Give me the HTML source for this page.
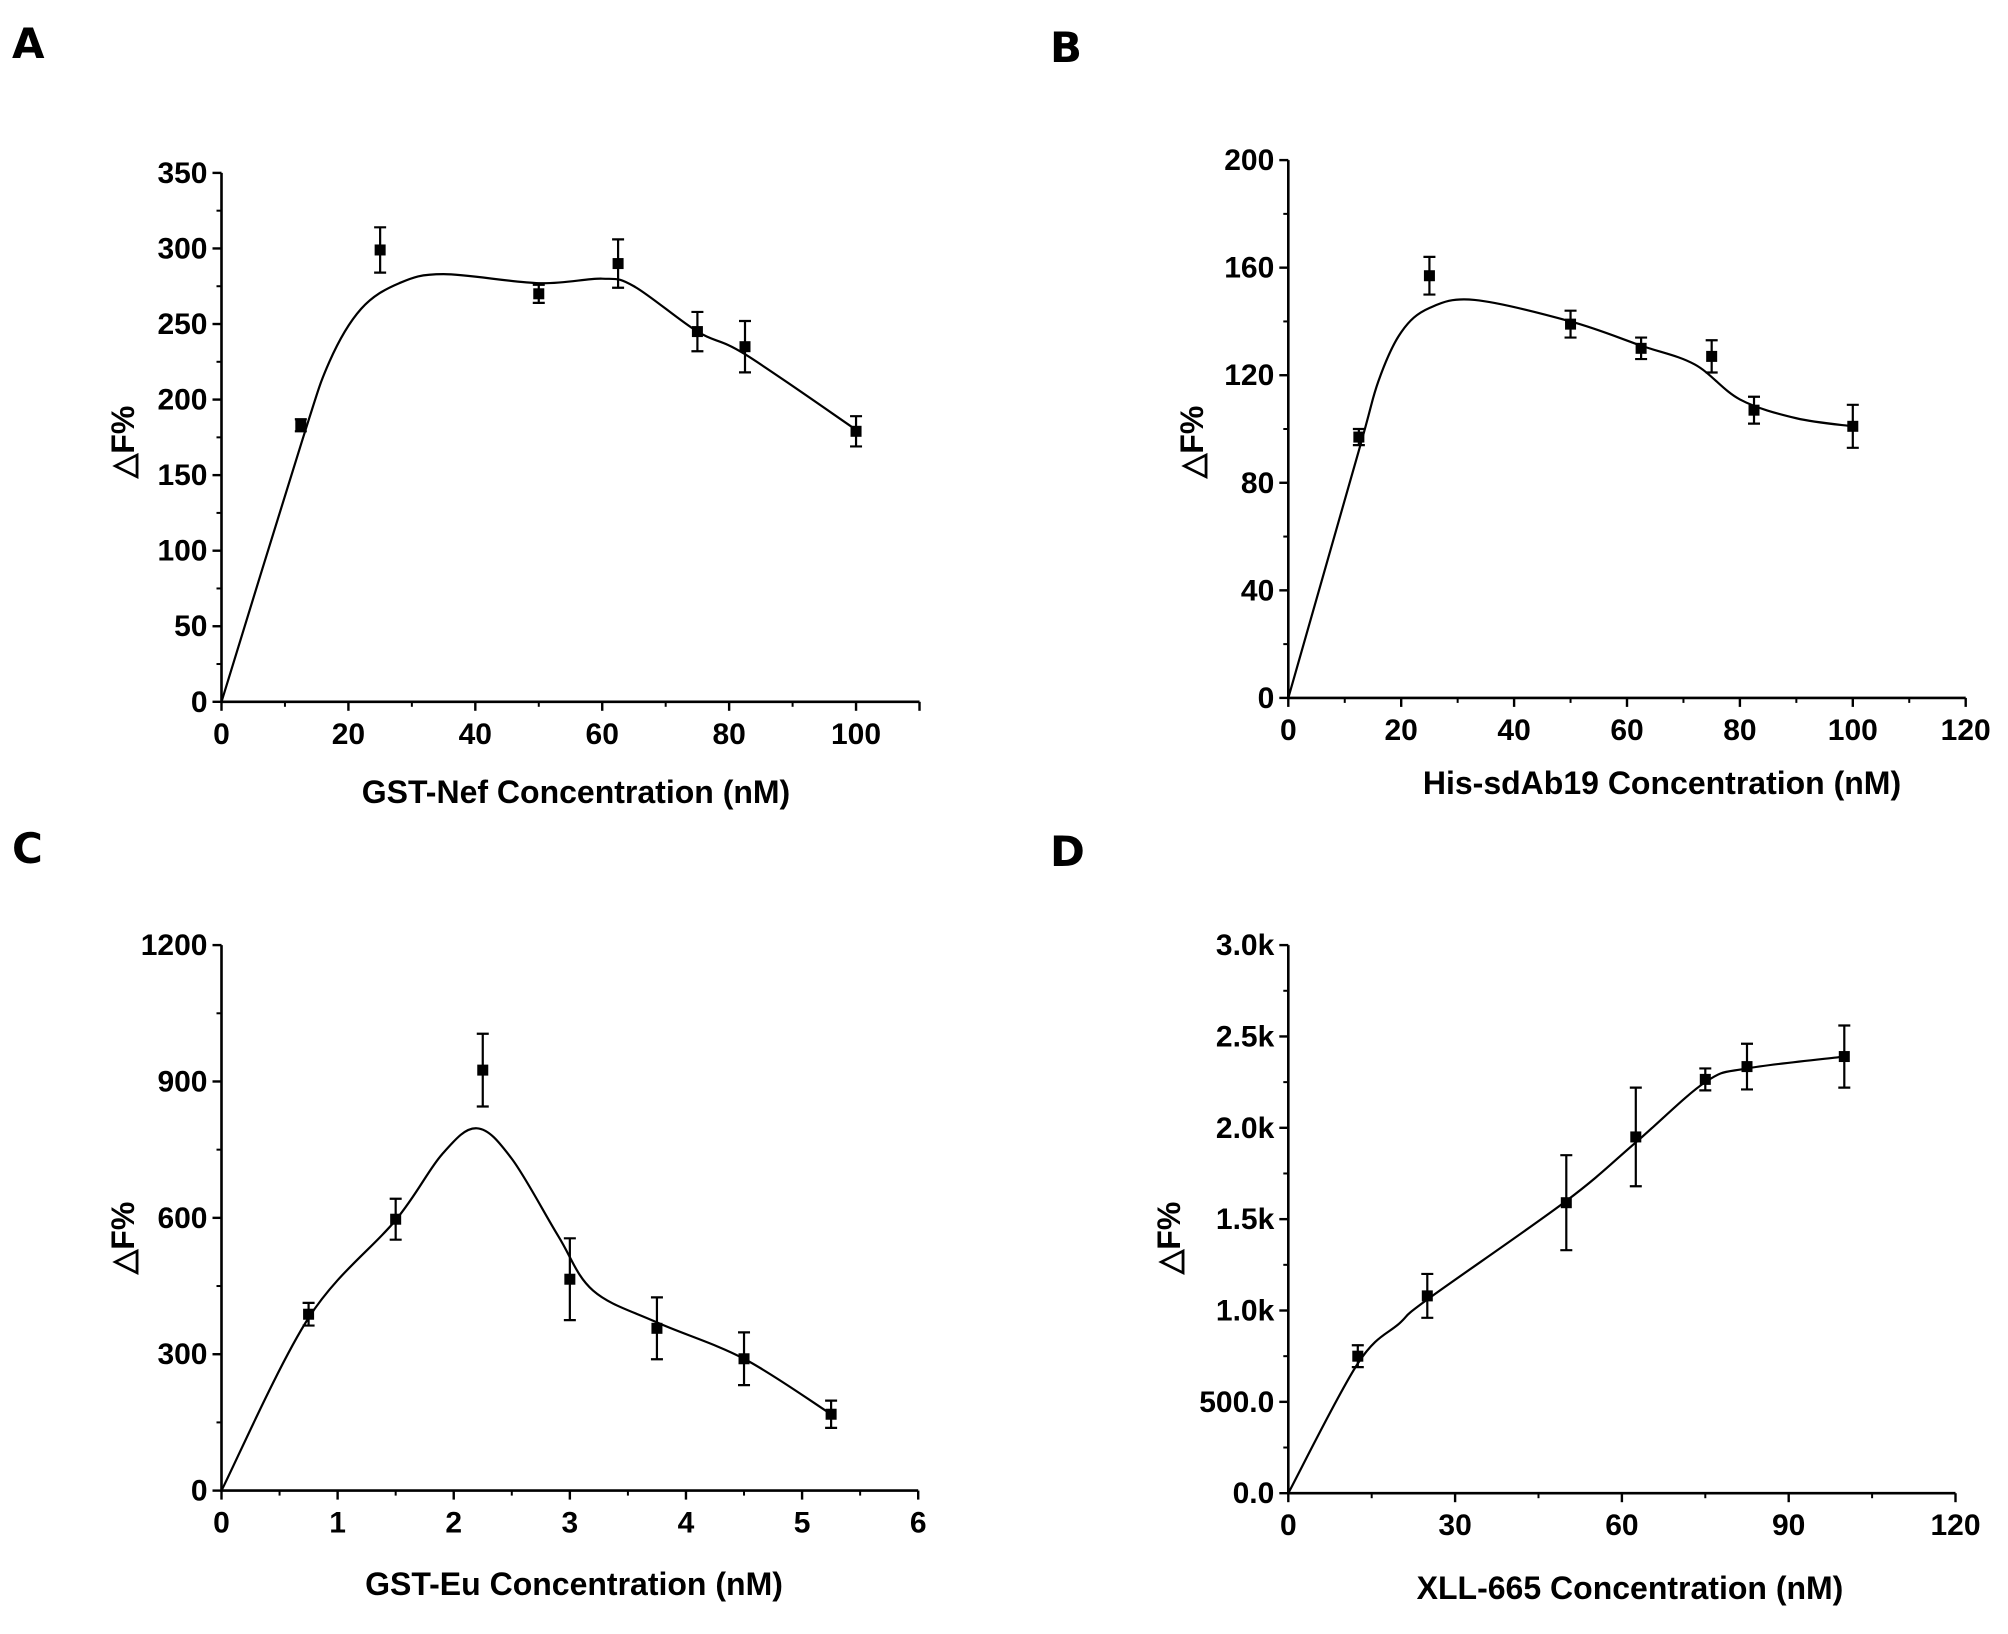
<!DOCTYPE html>
<html><head><meta charset="utf-8"><style>
html,body{margin:0;padding:0;background:#fff;}
svg{display:block;font-family:"Liberation Sans",Arial,sans-serif;}
</style></head><body>
<svg id="fig" width="2008" height="1634" viewBox="0 0 2008 1634" xmlns="http://www.w3.org/2000/svg">
<rect width="2008" height="1634" fill="#fff"/>
</svg>
<script>
// Panel A data
const aX = [12.5, 25, 50, 62.5, 75, 82.5, 100];
const aY = [183, 299, 270, 290, 245, 235, 179];
const aErr = [4, 15, 6, 16, 13, 17, 10];
const aFitX = [0, 12.5, 17, 22, 28, 35, 50, 60, 65, 75, 82.5, 100];
const aFitY = [0, 170, 225, 260, 277, 283, 277, 280, 275, 245, 230, 180];
const aXTicks = [0, 20, 40, 60, 80, 100];
const aYTicks = [0, 50, 100, 150, 200, 250, 300, 350];
// Panel B data
const bX = [12.5, 25, 50, 62.5, 75, 82.5, 100];
const bY = [97, 157, 139, 130, 127, 107, 101];
const bErr = [3, 7, 5, 4, 6, 5, 8];
const bFitX = [0, 12.5, 16, 20, 25, 33, 50, 62.5, 72, 80, 90, 100];
const bFitY = [0, 92, 118, 136, 145, 148, 140, 131, 124, 111, 104, 101];
const bXTicks = [0, 20, 40, 60, 80, 100, 120];
const bYTicks = [0, 40, 80, 120, 160, 200];
// Panel C data
const cX = [0.75, 1.5, 2.25, 3, 3.75, 4.5, 5.25];
const cY = [388, 597, 925, 465, 357, 290, 168];
const cErr = [25, 45, 80, 90, 68, 58, 30];
const cFitX = [0, 0.75, 1.5, 1.9, 2.2, 2.5, 2.9, 3.2, 3.75, 4.5, 5.25];
const cFitY = [0, 380, 595, 740, 797, 730, 560, 440, 370, 290, 168];
const cXTicks = [0, 1, 2, 3, 4, 5, 6];
const cYTicks = [0, 300, 600, 900, 1200];
// Panel D data
const dX = [12.5, 25, 50, 62.5, 75, 82.5, 100];
const dY = [750, 1080, 1590, 1950, 2265, 2335, 2390];
const dErr = [60, 120, 260, 270, 60, 125, 170];
const dFitX = [0, 12.5, 20, 25, 50, 62.5, 75, 82.5, 100];
const dFitY = [0, 710, 930, 1060, 1600, 1920, 2250, 2325, 2390];
const dXTicks = [0, 30, 60, 90, 120];
const dYTicks = [0, 500, 1000, 1500, 2000, 2500, 3000];
const dYLabels = ["0.0", "500.0", "1.0k", "1.5k", "2.0k", "2.5k", "3.0k"];

const NS = "http://www.w3.org/2000/svg";
const svg = document.getElementById("fig");
function mk(tag, attrs, parent) {
  const e = document.createElementNS(NS, tag);
  for (const k in attrs) e.setAttribute(k, attrs[k]);
  (parent || svg).appendChild(e);
  return e;
}

function panel(p) {
  const g = mk("g", {});
  
  
  const sx = v => p.x0 + (v - p.xmin) / (p.xmax - p.xmin) * (p.x1 - p.x0);
  const sy = v => p.y0 - (v - p.ymin) / (p.ymax - p.ymin) * (p.y0 - p.y1);
  const lbl = mk("text", {x: p.lx, y: p.ly, "font-size": 42, "font-weight": "bold", "font-family": "DejaVu Sans, sans-serif"}, g);
  lbl.textContent = p.id.toUpperCase();
  
  
  const ax = mk("path", {d: `M${p.x0},${p.y1}V${p.y0}H${p.x1}`, stroke: "#000", "stroke-width": 2.6, fill: "none"}, g);
  
  
  p.xt.forEach((t, i) => {
    const x = sx(t);
    mk("line", {x1: x, x2: x, y1: p.y0, y2: p.y0 + 9, stroke: "#000", "stroke-width": 2.4}, g);
    if (i < p.xt.length - 1) {
      const xm = sx((t + p.xt[i + 1]) / 2);
      mk("line", {x1: xm, x2: xm, y1: p.y0, y2: p.y0 + 5, stroke: "#000", "stroke-width": 2}, g);
    }
    const tx = mk("text", {x: x, y: p.y0 + 42, "font-size": 30, "font-weight": "bold", "text-anchor": "middle"}, g);
    tx.textContent = t;
    
    
  });
  if (p.xmax > p.xt[p.xt.length - 1]) {
    mk("line", {x1: sx(p.xmax), x2: sx(p.xmax), y1: p.y0, y2: p.y0 + 9, stroke: "#000", "stroke-width": 2.4}, g);
  }
  p.yt.forEach((t, i) => {
    const y = sy(t);
    mk("line", {x1: p.x0 - 9, x2: p.x0, y1: y, y2: y, stroke: "#000", "stroke-width": 2.4}, g);
    if (i < p.yt.length - 1) {
      const ym = sy((t + p.yt[i + 1]) / 2);
      mk("line", {x1: p.x0 - 5, x2: p.x0, y1: ym, y2: ym, stroke: "#000", "stroke-width": 2}, g);
    }
    const ty = mk("text", {x: p.x0 - 14, y: y + 10, "font-size": 30, "font-weight": "bold", "text-anchor": "end"}, g);
    ty.textContent = p.yl ? p.yl[i] : t;
    
    
  });
  const xt = mk("text", {x: p.xtx, y: p.xty, "font-size": 32, "font-weight": "bold", "text-anchor": "middle"}, g);
  xt.textContent = p.xtitle;
  
  
  const yt = mk("text", {x: 0, y: 0, "font-size": 32, "font-weight": "bold", "text-anchor": "middle",
    transform: `translate(${p.ytx},${p.yty}) rotate(-90)`}, g);
  yt.textContent = "\u25B3F%";
  
  
  const pts = p.fx.map((v, i) => [sx(v), sy(p.fy[i])]);
  let d = `M${pts[0][0]},${pts[0][1]}`;
  for (let i = 0; i < pts.length - 1; i++) {
    const p0 = pts[Math.max(0, i - 1)], p1 = pts[i], p2 = pts[i + 1], p3 = pts[Math.min(pts.length - 1, i + 2)];
    const c1 = [p1[0] + (p2[0] - p0[0]) / 6, p1[1] + (p2[1] - p0[1]) / 6];
    const c2 = [p2[0] - (p3[0] - p1[0]) / 6, p2[1] - (p3[1] - p1[1]) / 6];
    d += `C${c1[0]},${c1[1]} ${c2[0]},${c2[1]} ${p2[0]},${p2[1]}`;
  }
  const fit = mk("path", {d: d, stroke: "#000", "stroke-width": 2.2, fill: "none"}, g);
  
  
  p.dx.forEach((v, i) => {
    const x = sx(v), y = sy(p.dy[i]), yt2 = sy(p.dy[i] + p.de[i]), yb = sy(p.dy[i] - p.de[i]);
    const eb = mk("path", {d: `M${x},${yt2}V${yb}M${x - 6},${yt2}H${x + 6}M${x - 6},${yb}H${x + 6}`, stroke: "#000", "stroke-width": 2.2, fill: "none"}, g);
    
    
    const r = mk("rect", {x: x - 5.5, y: y - 5.5, width: 11, height: 11, fill: "#000"}, g);
    
    
  });
}

panel({id: "a", lx: 12, ly: 58, x0: 221.5, x1: 919.5, xmin: 0, xmax: 110, y0: 701.8, y1: 172.9, ymin: 0, ymax: 350,
  xt: aXTicks, yt: aYTicks, xtitle: "GST-Nef  Concentration (nM)", xtx: 576, xty: 803, ytx: 134, yty: 442,
  fx: aFitX, fy: aFitY, dx: aX, dy: aY, de: aErr});
panel({id: "b", lx: 1050, ly: 62, x0: 1288.3, x1: 1965.7, xmin: 0, xmax: 120, y0: 697.9, y1: 160.1, ymin: 0, ymax: 200,
  xt: bXTicks, yt: bYTicks, xtitle: "His-sdAb19 Concentration (nM)", xtx: 1662, xty: 794, ytx: 1203, yty: 442,
  fx: bFitX, fy: bFitY, dx: bX, dy: bY, de: bErr});
panel({id: "c", lx: 12, ly: 863, x0: 221.5, x1: 918.2, xmin: 0, xmax: 6, y0: 1490.6, y1: 945.1, ymin: 0, ymax: 1200,
  xt: cXTicks, yt: cYTicks, xtitle: "GST-Eu Concentration (nM)", xtx: 574, xty: 1595, ytx: 134, yty: 1238,
  fx: cFitX, fy: cFitY, dx: cX, dy: cY, de: cErr});
panel({id: "d", lx: 1050, ly: 866, x0: 1288.3, x1: 1955.5, xmin: 0, xmax: 120, y0: 1493.2, y1: 945.1, ymin: 0, ymax: 3000,
  xt: dXTicks, yt: dYTicks, yl: dYLabels, xtitle: "XLL-665 Concentration (nM)", xtx: 1630, xty: 1599, ytx: 1180, yty: 1238,
  fx: dFitX, fy: dFitY, dx: dX, dy: dY, de: dErr});
</script>
</body></html>
